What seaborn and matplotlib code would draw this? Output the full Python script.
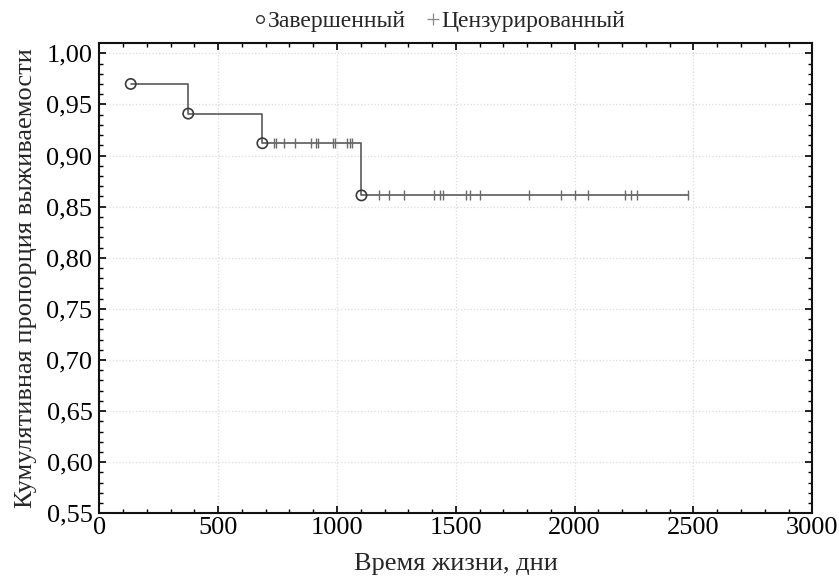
import numpy as np
import pandas as pd
import matplotlib
matplotlib.use("Agg")
import matplotlib.pyplot as plt
from matplotlib.ticker import MultipleLocator, FuncFormatter
from matplotlib.lines import Line2D
import seaborn as sns

# Data
event_times = [132, 374, 686, 1103]
event_surv = [0.970, 0.941, 0.912, 0.861]
end_time = 2475
censored_times = [734, 743, 778, 824, 889, 913, 922, 982, 992, 1044, 1053, 1063,
                  1176, 1219, 1283, 1409, 1433, 1445, 1544, 1561, 1603, 1808,
                  1943, 2000, 2056, 2210, 2235, 2263, 2475]
x_ticks = [0, 500, 1000, 1500, 2000, 2500, 3000]
y_ticks = [0.55, 0.60, 0.65, 0.70, 0.75, 0.80, 0.85, 0.90, 0.95, 1.00]

sns.set_style("ticks")
plt.rcParams['font.family'] = ['Liberation Serif', 'DejaVu Serif']

fig = plt.figure(figsize=(8.39, 5.77), dpi=100)
ax = fig.add_axes([0.1184, 0.1104, 0.8498, 0.8146])

line_color = '#5a5a5a'
step_df = pd.DataFrame({
    't': event_times + [end_time],
    's': event_surv + [event_surv[-1]],
})
sns.lineplot(data=step_df, x='t', y='s', drawstyle='steps-post', color=line_color,
             linewidth=1.2, ax=ax, estimator=None, sort=False, zorder=3)

# censored marks on the step curve
idx = np.searchsorted(event_times, censored_times, side='right') - 1
cens_surv = [event_surv[i] for i in idx]
cens_df = pd.DataFrame({'t': censored_times, 's': cens_surv})
sns.scatterplot(data=cens_df, x='t', y='s', marker='|', s=55, color='#6a6a6a',
                linewidth=1.0, ax=ax, zorder=4)

ev_df = pd.DataFrame({'t': event_times, 's': event_surv})
sns.scatterplot(data=ev_df, x='t', y='s', marker='o', s=55, facecolor='none',
                edgecolor='#3a3a3a', linewidth=1.2, ax=ax, zorder=5)

ax.set_xlim(0, 3000)
ax.set_ylim(0.55, 1.0098)
ax.set_xticks(x_ticks)
ax.set_yticks(y_ticks)
ax.xaxis.set_minor_locator(MultipleLocator(100))
ax.yaxis.set_minor_locator(MultipleLocator(0.01))
ax.yaxis.set_major_formatter(FuncFormatter(lambda v, p: f"{v:.2f}".replace('.', ',')))
ax.xaxis.set_major_formatter(FuncFormatter(lambda v, p: f"{int(round(v))}"))

ax.tick_params(which='both', direction='in', top=True, right=True, colors='black',
               labelsize=19)
ax.tick_params(axis='x', which='major', pad=3)
ax.tick_params(axis='y', which='major', pad=5)
ax.tick_params(which='major', length=5, width=1.2)
ax.tick_params(which='minor', length=3, width=1.0)
for sp in ax.spines.values():
    sp.set_visible(True)
    sp.set_color('#111111')
    sp.set_linewidth(1.5)

ax.grid(True, which='major', color='#dcdcdc', linestyle=':', linewidth=0.9, zorder=0)
ax.set_axisbelow(True)

ax.set_xlabel('Время жизни, дни', fontsize=19, labelpad=10)
ax.set_ylabel('Кумулятивная пропорция выживаемости', fontsize=19, labelpad=7)

handles = [
    Line2D([], [], linestyle='none', marker='o', markersize=5.5, markerfacecolor='none',
           markeredgecolor='#333333', markeredgewidth=1.0),
    Line2D([], [], linestyle='none', marker='+', markersize=8, color='#888888',
           markeredgewidth=0.9),
]
fig.legend(handles, ['Завершенный', 'Цензурированный'], loc='upper center',
           bbox_to_anchor=(0.524, 1.018), ncol=2, frameon=False, fontsize=17,
           handlelength=0.5, handletextpad=0.1, columnspacing=0.9)

fig.savefig('out.png', dpi=100)
